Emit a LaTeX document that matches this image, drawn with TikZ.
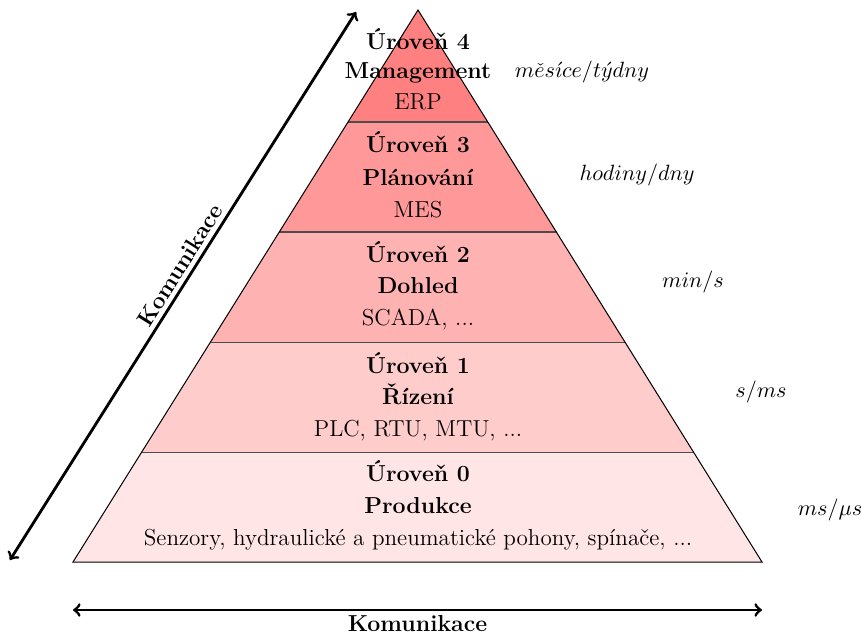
\documentclass[tikz,border=0pt]{standalone}
\usepackage{fontspec}
\newcommand{\bigfnt}{\fontsize{11.45pt}{13.7pt}\selectfont}
\begin{document}
\begin{tikzpicture}[x=0.4955pt,y=-0.4955pt,
  lvl/.style={inner sep=0pt,anchor=base,font=\bigfnt},
  ttl/.style={lvl,font=\bigfnt\bfseries},
  tm/.style={inner sep=0pt,anchor=base,font=\bigfnt},
  sep/.style={draw=black!70,line width=0.5pt},
  comm/.style={<->,line width=1.4pt}]
\useasboundingbox (0,0) rectangle (861,636);
% layers
\coordinate (A) at (418,10);
\coordinate (BL) at (73,562);
\coordinate (BR) at (762,562);
\fill[red!10] (142,452) -- (694,452) -- (762,562) -- (73,562) -- cycle;
\fill[red!20] (210.5,342) -- (625.5,342) -- (694,452) -- (142,452) -- cycle;
\fill[red!30] (279.25,232) -- (556.75,232) -- (625.5,342) -- (210.5,342) -- cycle;
\fill[red!40] (348,122) -- (488,122) -- (556.75,232) -- (279.25,232) -- cycle;
\fill[red!50] (418,10) -- (488,122) -- (348,122) -- cycle;
\draw[sep] (348,122) -- (488,122);
\draw[sep] (279.25,232) -- (556.75,232);
\draw[sep] (210.5,342) -- (625.5,342);
\draw[sep] (142,452) -- (694,452);
\draw[line width=0.5pt] (A) -- (BR) -- (BL) -- cycle;
% texts
\node[ttl] (t4a) at (418,49) {Úroveň 4};
\node[ttl] (t4b) at (418,78) {Management};
\node[lvl] (t4c) at (418,109) {ERP};
\node[ttl] (t3a) at (418,152) {Úroveň 3};
\node[ttl] (t3b) at (418,185) {Plánování};
\node[lvl] (t3c) at (418,217) {MES};
\node[ttl] (t2a) at (418,262) {Úroveň 2};
\node[ttl] (t2b) at (418,293) {Dohled};
\node[lvl] (t2c) at (418,325) {SCADA, ...};
\node[ttl] (t1a) at (418,373) {Úroveň 1};
\node[ttl] (t1b) at (418,404) {Řízení};
\node[lvl] (t1c) at (418,436) {PLC, RTU, MTU, ...};
\node[ttl] (t0a) at (418,481) {Úroveň 0};
\node[ttl] (t0b) at (418,513) {Produkce};
\node[lvl] (t0c) at (418,545) {Senzory, hydraulické a pneumatické pohony, spínače, ...};
% time scales
\node[tm] (s4) at (582,77) {$m\check{e}s\acute{\imath}ce/t\acute{y}dny$};
\node[tm] (s3) at (637,180) {$hodiny/dny$};
\node[tm] (s2) at (693,287) {$min/s$};
\node[tm] (s1) at (761,397) {$s/ms$};
\node[tm] (s0) at (830,515) {$ms/\mu s$};
% communication arrows
\coordinate (c1) at (10,560);
\coordinate (c2) at (356,12);
\draw[comm] (c1) -- (c2) node[pos=0.525,sloped,above=1pt,inner sep=1pt,font=\bigfnt\bfseries] (k1) {Komunikace};
\coordinate (d1) at (73,610);
\coordinate (d2) at (762,610);
\draw[comm] (d1) -- (d2) node[midway,below=1pt,inner sep=1pt,font=\bigfnt\bfseries] (k2) {Komunikace};
\end{tikzpicture}
\end{document}
